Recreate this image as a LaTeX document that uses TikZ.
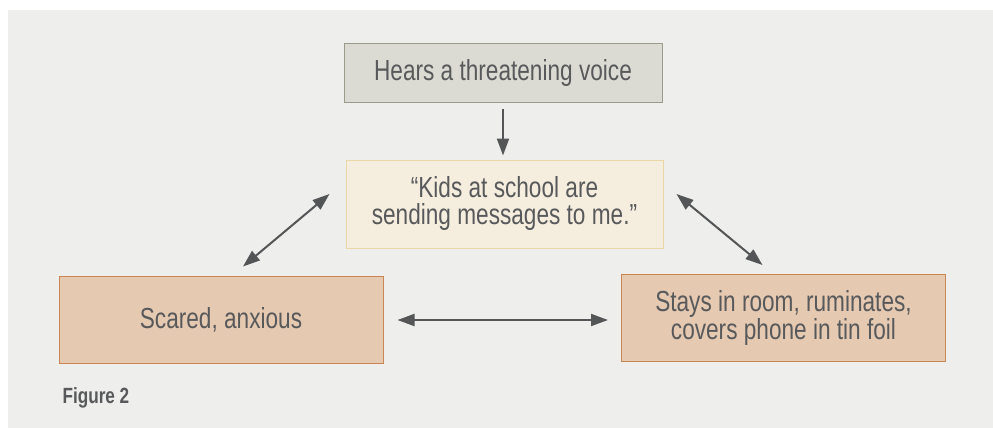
\documentclass[tikz,border=0pt]{standalone}
\usepackage{fontspec}
\setmainfont{Liberation Sans}[FakeStretch=0.78]
\usetikzlibrary{
  positioning,
  arrows.meta
}
\definecolor{panelgray}{HTML}{EEEEEC}
\definecolor{txtgray}{HTML}{58595B}
\definecolor{arrowgray}{HTML}{545557}
\definecolor{eventfill}{HTML}{DCDBD3}
\definecolor{eventline}{HTML}{9A9C8A}
\definecolor{thoughtfill}{HTML}{F5EEDF}
\definecolor{thoughtline}{HTML}{EAD7A8}
\definecolor{reactfill}{HTML}{E6C9B1}
\definecolor{reactline}{HTML}{C98553}

\begin{document}
\begin{tikzpicture}[
    x=1pt, y=-1pt, >={Triangle[length=17pt,width=12pt]},
    box/.style={
      draw,
      line width=1pt,
      inner sep=0pt,
      align=center,
      text=txtgray,
      font=\fontsize{29}{27}\selectfont
    },
    event/.style={box, fill=eventfill, draw=eventline,
      minimum width=318pt, minimum height=58pt},
    thought/.style={box, fill=thoughtfill, draw=thoughtline,
      minimum width=317pt, minimum height=88pt},
    reaction/.style={box, fill=reactfill, draw=reactline,
      minimum width=324pt, minimum height=87pt},
    link/.style={draw=arrowgray, line width=2pt}
  ]
  \useasboundingbox (0,0) rectangle (993,428);
  \fill[panelgray] (8,10) rectangle (993,428);

  % boxes
  \node[event] (voice) at (503,73) {Hears a threatening voice};
  \node[thought] (kids) at (504.5,204) {``Kids at school are\\sending messages to me.''};
  \node[reaction] (scared) at (221,319.5) {Scared, anxious};
  \node[reaction] (stays) at (783.5,318) {Stays in room, ruminates,\\covers phone in tin foil};

  \node[anchor=west, text=txtgray, font=\fontsize{22}{24}\selectfont\bfseries] (fig) at (59,398) {Figure 2};

  % free ends of the diagonal arrows
  \coordinate (kidsL) at ([xshift=-16pt,yshift=10pt]kids.west);
  \coordinate (kidsR) at ([xshift=13pt,yshift=10pt]kids.east);
  \coordinate (scaredT) at ([xshift=22pt,yshift=9pt]scared.north);
  \coordinate (staysT) at ([xshift=-21pt,yshift=9pt]stays.north);

  % arrows
  \draw[link,->,shorten <=6pt,shorten >=4pt] (voice.south) -- (voice.south |- kids.north);
  \draw[link,<->] (kidsL) -- (scaredT);
  \draw[link,<->] (kidsR) -- (staysT);
  \draw[link,<->,shorten <=14pt,shorten >=13pt] ([yshift=-0.5pt]scared.east) -- ([yshift=-0.5pt]scared.east -| stays.west);
\end{tikzpicture}
\end{document}
